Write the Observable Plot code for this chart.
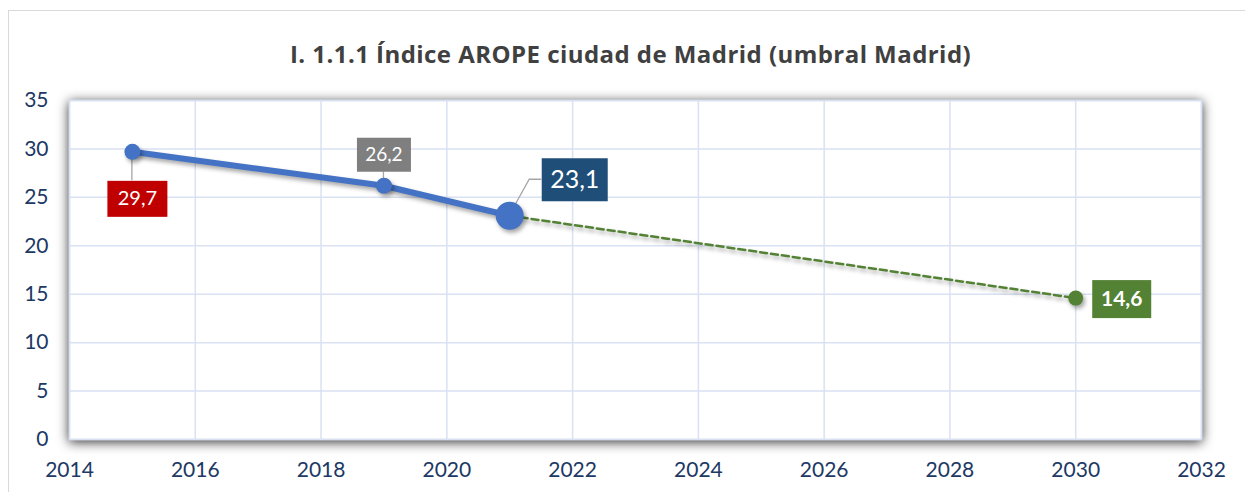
<!DOCTYPE html>
<html><head><meta charset="utf-8">
<script src="https://cdn.jsdelivr.net/npm/d3@7"></script>
<script src="https://cdn.jsdelivr.net/npm/@observablehq/plot@0.6"></script>
<style>
body{margin:0;background:#fff;}
#wrap{position:relative;width:1245px;height:492px;overflow:hidden;background:#fff;}
#border{position:absolute;left:8px;top:10px;width:1300px;height:600px;border:1px solid #d9d9d9;box-sizing:border-box;}
#title{position:absolute;left:8px;top:37px;width:1245px;height:34px;line-height:34px;text-align:center;
  font-family:"Open Sans",Lato,sans-serif;font-weight:bold;font-size:24px;letter-spacing:0.45px;color:#404040;}
#chart{position:absolute;left:0;top:78px;}
</style></head>
<body>
<div id="wrap">
  <div id="border"></div>
  <div id="title">I. 1.1.1 Índice AROPE ciudad de Madrid (umbral Madrid)</div>
  <div id="chart"></div>
</div>
<script>
// Data
const years = [2015, 2019, 2021];
const values = [29.7, 26.2, 23.1];
const valueLabels = ["29,7", "26,2", "23,1"];
const targetYears = [2021, 2030];
const targetValues = [23.1, 14.6];
const targetLabel = "14,6";
const xTicks = [2014, 2016, 2018, 2020, 2022, 2024, 2026, 2028, 2030, 2032];
const yTicks = [0, 5, 10, 15, 20, 25, 30, 35];

const actual = years.map((y, i) => ({year: y, value: values[i], label: valueLabels[i]}));
const target = targetYears.map((y, i) => ({year: y, value: targetValues[i]}));

const font = "Lato, 'Open Sans', sans-serif";
const tickColor = "#203864";
const gridColor = "#d9e1f2";

// label styling (pixel offsets from the point, box size, font)
const labelStyles = [
  {dx: 5, dy: 47, fill: "#c00000", w: 60, h: 36, size: 20, weight: "normal"},
  {dx: 0, dy: -31, fill: "#7f7f7f", w: 54, h: 34, size: 19, weight: "normal"},
  {dx: 65, dy: -36, fill: "#1f4e79", w: 66, h: 43, size: 25, weight: "normal"},
  {dx: 46, dy: 1, fill: "#548235", w: 59, h: 38, size: 21, weight: "bold"}
];

const labelMark = (data, s, text) => Plot.text(data, {
  x: "year", y: "value", text, dx: s.dx, dy: s.dy,
  fill: "white", fontSize: s.size, fontWeight: s.weight, fontFamily: font
});

const chart = Plot.plot({
  width: 1245, height: 414,
  marginLeft: 69, marginRight: 44, marginTop: 22, marginBottom: 53,
  style: {background: "transparent", fontFamily: font},
  x: {domain: [2014, 2032]},
  y: {domain: [0, 35]},
  marks: [
    Plot.frame({fill: "white", stroke: "#c9d3e6", strokeWidth: 1.5}),
    Plot.gridX(xTicks, {stroke: gridColor, strokeOpacity: 1, strokeWidth: 1.5}),
    Plot.gridY(yTicks, {stroke: gridColor, strokeOpacity: 1, strokeWidth: 1.5}),
    Plot.axisX({ticks: xTicks, tickSize: 0, tickPadding: 23, tickFormat: d => String(d), fontSize: 21, fill: tickColor, label: null}),
    Plot.axisY({ticks: yTicks, tickSize: 0, tickPadding: 21, fontSize: 21, fill: tickColor, label: null}),
    Plot.line(target, {x: "year", y: "value", stroke: "#548235", strokeWidth: 2.5, strokeDasharray: "7,4"}),
    Plot.line(actual, {x: "year", y: "value", stroke: "#4472c4", strokeWidth: 6}),
    Plot.dot(actual.slice(0, 2), {x: "year", y: "value", r: 8, fill: "#4472c4"}),
    Plot.dot(actual.slice(2), {x: "year", y: "value", r: 14, fill: "#4472c4"}),
    Plot.dot(target.slice(1), {x: "year", y: "value", r: 7.5, fill: "#548235"}),
    labelMark([actual[0]], labelStyles[0], "label"),
    labelMark([actual[1]], labelStyles[1], "label"),
    labelMark([actual[2]], labelStyles[2], "label"),
    labelMark([target[1]], labelStyles[3], () => targetLabel)
  ]
});
document.getElementById("chart").appendChild(chart);

const svg = d3.select(chart);
svg.selectAll('[aria-label="frame"]').style("filter", "drop-shadow(0px 2px 6px rgba(0,0,0,0.8))");
svg.selectAll('g[aria-label="line"], g[aria-label="dot"]').style("filter", "drop-shadow(2px 3px 2px rgba(0,0,0,0.35))");

// label boxes behind texts, positioned from the scales
const sx = chart.scale("x"), sy = chart.scale("y");
const labelData = [actual[0], actual[1], actual[2], target[1]];
const labelGroups = svg.selectAll('g[aria-label="text"]').nodes();
labelGroups.slice(-4).forEach((g, i) => {
  const s = labelStyles[i];
  const d = labelData[i];
  const cx = sx.apply(d.year), cy = sy.apply(d.value);
  const rect = document.createElementNS("http://www.w3.org/2000/svg", "rect");
  rect.setAttribute("x", cx - s.w / 2);
  rect.setAttribute("y", cy - s.h / 2);
  rect.setAttribute("width", s.w);
  rect.setAttribute("height", s.h);
  rect.setAttribute("fill", s.fill);
  g.insertBefore(rect, g.firstChild);
});

// leader lines (from point to label box), from scale positions
const leaders = svg.insert("g", 'g[aria-label="line"]').attr("stroke", "#a6a6a6").attr("stroke-width", 1.3).attr("fill", "none");
const p0 = [sx.apply(years[0]), sy.apply(values[0])];
leaders.append("path").attr("d", `M${p0[0]},${p0[1]}V${p0[1] + labelStyles[0].dy - labelStyles[0].h / 2}`);
const p1 = [sx.apply(years[1]), sy.apply(values[1])];
leaders.append("path").attr("d", `M${p1[0]},${p1[1]}V${p1[1] + labelStyles[1].dy + labelStyles[1].h / 2}`);
const p2 = [sx.apply(years[2]), sy.apply(values[2])];
const ly = p2[1] + labelStyles[2].dy;
const lx = p2[0] + labelStyles[2].dx - labelStyles[2].w / 2;
leaders.append("path").attr("d", `M${p2[0]},${p2[1]}L${lx - 12},${ly}H${lx}`);
</script>
</body></html>
